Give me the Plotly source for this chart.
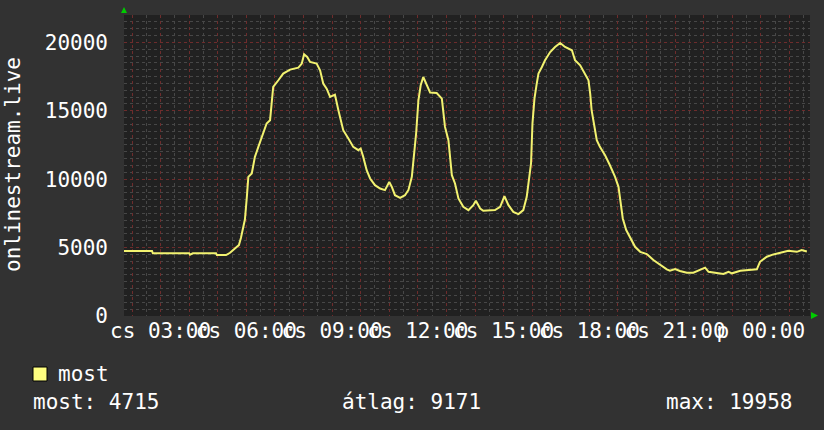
import plotly.graph_objects as go

# ---- data ----
# time in hours since Thursday 00:00 (values > 24 are Friday)
hours = [1.72, 2.70, 2.73, 4.00, 4.03, 4.13, 4.94, 4.97, 5.29, 5.43, 5.60, 5.74, 5.81, 5.88, 5.95,
         6.02, 6.07, 6.19, 6.30, 6.42, 6.54, 6.71, 6.83, 6.89, 6.94, 7.12, 7.29, 7.53, 7.82, 7.94,
         8.02, 8.13, 8.23, 8.46, 8.58, 8.69, 8.81, 8.93, 9.10, 9.22, 9.28, 9.39, 9.57, 9.74, 9.92,
         10.00, 10.09, 10.21, 10.33, 10.50, 10.68, 10.85, 11.00, 11.09, 11.20, 11.38, 11.55, 11.67,
         11.79, 11.84, 11.94, 12.02, 12.10, 12.19, 12.31, 12.43, 12.66, 12.84, 12.95, 13.07, 13.19,
         13.30, 13.42, 13.59, 13.77, 13.94, 14.03, 14.18, 14.29, 14.70, 14.88, 15.03, 15.17, 15.34,
         15.52, 15.69, 15.81, 15.89, 15.96, 16.01, 16.08, 16.16, 16.22, 16.34, 16.45, 16.63, 16.80,
         16.98, 17.15, 17.39, 17.50, 17.68, 17.85, 17.97, 18.03, 18.08, 18.16, 18.26, 18.37, 18.55,
         18.72, 18.90, 19.02, 19.08, 19.17, 19.29, 19.43, 19.60, 19.78, 20.01, 20.24, 20.48, 20.71,
         20.82, 21.00, 21.17, 21.41, 21.64, 21.87, 22.05, 22.17, 22.40, 22.69, 22.87, 22.99, 23.28,
         23.56, 23.86, 23.97, 24.21, 24.44, 24.73, 24.96, 25.26, 25.43, 25.61]
values = [4745, 4745, 4580, 4580, 4480, 4580, 4580, 4450, 4450, 4620, 4940, 5180, 5700, 6280, 7050,
          8750, 10170, 10420, 11630, 12360, 13090, 14070, 14310, 15530, 16740, 17230, 17720, 18010, 18150, 18450,
          19130, 18930, 18570, 18450, 17960, 16990, 16620, 16010, 16180, 15040, 14550, 13580, 12970, 12360, 12120,
          12240, 11630, 10660, 10050, 9560, 9320, 9200, 9800, 9440, 8830, 8640, 8830, 9200,
          10170, 11150, 13340, 15770, 16860, 17470, 16860, 16330, 16300, 15890, 13820, 12850, 10290,
          9690, 8590, 7980, 7740, 8100, 8420, 7860, 7690, 7740, 7980, 8760, 8100, 7610,
          7450, 7740, 8710, 10170, 11150, 14070, 15890, 16990, 17720, 18200, 18690, 19290, 19660,
          19958, 19660, 19420, 18690, 18320, 17720, 17230, 16260, 15040, 14070, 12850, 12360, 11750,
          11020, 10170, 9440, 8470, 7130, 6280, 5700, 5060, 4690, 4530, 4090, 3720, 3410,
          3310, 3430, 3290, 3160, 3160, 3360, 3530, 3230, 3160, 3070, 3230, 3120, 3310,
          3360, 3410, 3960, 4330, 4500, 4650, 4770, 4690, 4820, 4715]

x_start, x_end = 1.72, 25.72
tick_hours = list(range(2, 26))
label_hours = [3, 6, 9, 12, 15, 18, 21, 24]
label_texts = ["cs 03:00", "cs 06:00", "cs 09:00", "cs 12:00", "cs 15:00", "cs 18:00", "cs 21:00", "p 00:00"]
y_tick_vals = [0, 5000, 10000, 15000, 20000]
y_tick_text = ["0", "5000", "10000", "15000", "20000"]
y_title = "onlinestream.live"
series_name = "most"
stat_labels = ["most: 4715", "átlag: 9171", "max: 19958"]

# ---- layout geometry (pixels) ----
W, H = 824, 430
L, R, T, B = 124, 14, 15, 114
PW, PH = W - L - R, H - T - B


def px(xp):
    return (xp - L) / PW


def py(yp):
    return (H - B - yp) / PH


FONT = "DejaVu Sans Mono"
fs = 21
ticktext = [label_texts[label_hours.index(h)] if h in label_hours else "" for h in tick_hours]

fig = go.Figure()
fig.add_trace(go.Scatter(x=hours, y=values, mode="lines",
                         line=dict(color="#f2f270", width=2), hoverinfo="skip",
                         showlegend=False))

MAJ = "#6e2c2c"
MIN = "#474747"

fig.update_layout(
    width=W, height=H,
    margin=dict(l=L, r=R, t=T, b=B, pad=0),
    paper_bgcolor="#323232",
    plot_bgcolor="#212121",
    font=dict(family=FONT, size=fs, color="#ffffff"),
    xaxis=dict(range=[x_start, x_end], tickmode="array", tickvals=tick_hours, ticktext=ticktext,
               tickangle=0, showgrid=True, gridcolor=MAJ, griddash="dot", gridwidth=1,
               ticks="", zeroline=False, showline=False, ticklabelstandoff=0, automargin=False,
               tickfont=dict(family=FONT, size=fs, color="#ffffff"),
               minor=dict(tickmode="linear", tick0=0, dtick=0.5, showgrid=True,
                          gridcolor=MIN, griddash="dot", gridwidth=1)),
    yaxis=dict(range=[0, 22000], tickmode="array", tickvals=y_tick_vals, ticktext=y_tick_text,
               showgrid=True, gridcolor=MAJ, griddash="dot", gridwidth=1,
               ticks="", zeroline=False, showline=False, ticklabelstandoff=15, automargin=False,
               tickfont=dict(family=FONT, size=fs, color="#ffffff"),
               minor=dict(tickmode="linear", tick0=0, dtick=500, showgrid=True,
                          gridcolor=MIN, griddash="dot", gridwidth=1)),
)

annotations = [
    dict(text=y_title, xref="paper", yref="paper", x=px(13), y=py(165), textangle=-90,
         xanchor="center", yanchor="middle", showarrow=False,
         font=dict(family=FONT, size=fs, color="#ffffff")),
    dict(text=series_name, xref="paper", yref="paper", x=px(56), y=py(374),
         xanchor="left", yanchor="middle", showarrow=False,
         font=dict(family=FONT, size=fs, color="#ffffff")),
    dict(text=stat_labels[0], xref="paper", yref="paper", x=px(31), y=py(402),
         xanchor="left", yanchor="middle", showarrow=False,
         font=dict(family=FONT, size=fs, color="#ffffff")),
    dict(text=stat_labels[1], xref="paper", yref="paper", x=px(340), y=py(402),
         xanchor="left", yanchor="middle", showarrow=False,
         font=dict(family=FONT, size=fs, color="#ffffff")),
    dict(text=stat_labels[2], xref="paper", yref="paper", x=px(794), y=py(402),
         xanchor="right", yanchor="middle", showarrow=False,
         font=dict(family=FONT, size=fs, color="#ffffff")),
]
fig.update_layout(annotations=annotations)

shapes = [
    # legend swatch
    dict(type="rect", xref="paper", yref="paper", x0=px(33), x1=px(47), y0=py(381), y1=py(367),
         fillcolor="#ffff80", line=dict(color="#000000", width=1), layer="above"),
    # green arrow at top of y axis
    dict(type="path", xref="paper", yref="paper",
         path=f"M {px(121)} {py(13)} L {px(127)} {py(13)} L {px(124)} {py(7)} Z",
         fillcolor="#00cc00", line=dict(color="#00cc00", width=0), layer="above"),
    # green arrow at right of x axis
    dict(type="path", xref="paper", yref="paper",
         path=f"M {px(811)} {py(312)} L {px(811)} {py(319)} L {px(818)} {py(315.5)} Z",
         fillcolor="#00cc00", line=dict(color="#00cc00", width=0), layer="above"),
]
fig.update_layout(shapes=shapes)

fig.write_html("out.html", config={"displayModeBar": False},
               post_script="document.body.style.margin='0';document.body.style.overflow='hidden';")
